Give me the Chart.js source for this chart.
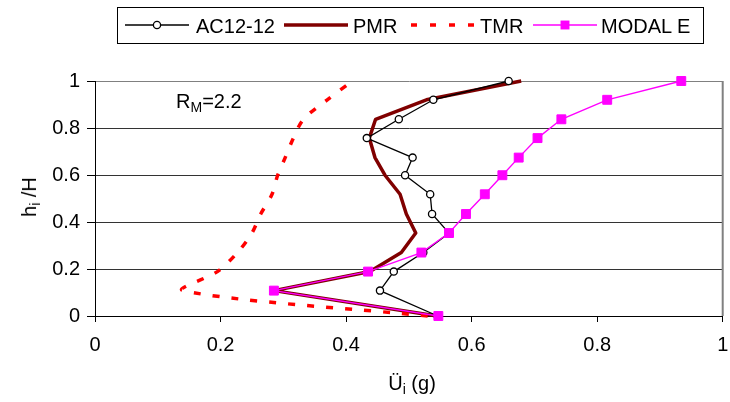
<!DOCTYPE html>
<html>
<head>
<meta charset="utf-8">
<script src="https://cdn.jsdelivr.net/npm/chart.js@4.4.1/dist/chart.umd.min.js"></script>
<style>
  html, body { margin:0; padding:0; background:#fff; }
  #wrap { position:relative; width:730px; height:402px; background:#fff; overflow:hidden;
          font-family:'Liberation Sans', Arial, sans-serif; color:#000; }
  #c { position:absolute; left:0; top:0; }
  .txt { position:absolute; font-size:20px; line-height:20px; white-space:nowrap; }
  .txt sub { font-size:14px; vertical-align:-4px; line-height:0; }
  #legendBox { position:absolute; left:117px; top:7px; width:585px; height:35px; border:1px solid #000; background:#fff; }
  .sample { position:absolute; }
</style>
</head>
<body>
<div id="wrap">
  <canvas id="c" width="730" height="402"></canvas>
  <div id="legendBox"></div>
  <div class="txt" id="ytitle" style="left:29px;top:197px;transform:translate(-50%,-50%) rotate(-90deg);">h<sub>i</sub> /H</div>
  <div class="txt" id="xtitle" style="left:412px;top:383px;transform:translate(-50%,-50%);">Ü<sub>i</sub> (g)</div>
  <div class="txt" id="note" style="left:176px;top:91px;">R<sub>M</sub>=2.2</div>
</div>
<script>
// ---- data ----
const heights = [0, 0.108, 0.189, 0.270, 0.353, 0.434, 0.518, 0.599, 0.674, 0.757, 0.837, 0.920, 1.000];
const ac12    = [0.546, 0.454, 0.476, 0.523, 0.564, 0.537, 0.534, 0.494, 0.506, 0.433, 0.484, 0.539, 0.659];
const pmr     = [0.545, 0.285, 0.438, 0.488, 0.511, 0.496, 0.486, 0.462, 0.446, 0.437, 0.447, 0.528, 0.679];
const tmr     = [0.530, 0.140, 0.195, 0.227, 0.250, 0.264, 0.282, 0.291, 0.303, 0.316, 0.332, 0.370, 0.410];
const modalE  = [0.547, 0.285, 0.435, 0.520, 0.564, 0.591, 0.621, 0.649, 0.675, 0.705, 0.743, 0.816, 0.934];
const seriesNames = ['AC12-12', 'PMR', 'TMR', 'MODAL E'];
const xTickLabels = ['0', '0.2', '0.4', '0.6', '0.8', '1'];
const yTickLabels = ['0', '0.2', '0.4', '0.6', '0.8', '1'];

function pts(xs) { return xs.map((x, i) => ({ x: x, y: heights[i] })); }

const FONT = "'Liberation Sans', Arial, sans-serif";

const datasets = [
  { label: seriesNames[0], data: pts(ac12), showLine: true, borderColor: '#000', borderWidth: 1.3,
    pointStyle: 'circle', pointRadius: 3.6, pointBackgroundColor: '#fff', pointBorderColor: '#000',
    pointBorderWidth: 1.3, tension: 0, order: 1, clip: false },
  { label: seriesNames[1], data: pts(pmr), showLine: true, borderColor: '#800000', borderWidth: 3.5,
    pointRadius: 0, tension: 0, order: 3, borderJoinStyle: 'round', clip: false },
  { label: seriesNames[2], data: pts(tmr), showLine: true, borderColor: '#ff0000', borderWidth: 3.5,
    borderDash: [7, 12], pointRadius: 0, tension: 0.3, order: 2, clip: false },
  { label: seriesNames[3], data: pts(modalE), showLine: true, borderColor: '#ff00ff', borderWidth: 1.4,
    pointStyle: 'rect', pointRadius: 6.3, pointBackgroundColor: '#ff00ff', pointBorderColor: '#ff00ff',
    pointBorderWidth: 1, tension: 0, order: 0, clip: false }
];

const frame = {
  id: 'frame',
  beforeDatasetsDraw(chart) {
    const a = chart.chartArea, ctx = chart.ctx;
    ctx.save();
    ctx.strokeStyle = '#808080';
    ctx.lineWidth = 2;
    ctx.beginPath();
    ctx.moveTo(a.right, a.top);
    ctx.lineTo(a.right, a.bottom);
    ctx.stroke();
    ctx.restore();
  }
};

new Chart(document.getElementById('c'), {
  type: 'scatter',
  data: { datasets: datasets },
  options: {
    responsive: false,
    animation: false,
    devicePixelRatio: 1,
    layout: { padding: { left: 0, right: 7, top: 81, bottom: 0 } },
    plugins: { legend: { display: false }, tooltip: { enabled: false } },
    scales: {
      x: {
        type: 'linear', min: 0, max: 1,
        afterFit(s) { s.height = 86; s.paddingLeft = 0; s.paddingRight = 0; },
        border: { color: '#000', width: 1 },
        grid: { drawOnChartArea: false, drawTicks: true, tickLength: 6, tickColor: '#000' },
        ticks: { stepSize: 0.2, padding: 11, color: '#000', font: { family: FONT, size: 20 },
                 maxRotation: 0, autoSkip: false,
                 callback: (v, i) => xTickLabels[i] }
      },
      y: {
        type: 'linear', min: 0, max: 1,
        afterFit(s) { s.width = 95; s.paddingTop = 0; s.paddingBottom = 0; },
        border: { color: '#000', width: 1 },
        grid: { color: (c) => (c.tick && c.tick.value === 1) ? '#808080' : '#333', lineWidth: 1,
                drawTicks: true, tickLength: 8, tickColor: '#000' },
        ticks: { stepSize: 0.2, padding: 7, color: '#000', font: { family: FONT, size: 20 },
                 autoSkip: false, callback: (v, i) => yTickLabels[i] }
      }
    }
  },
  plugins: [frame]
});

// ---- legend (HTML text, samples drawn from dataset styles) ----
const legendSampleLeft = [125, 284, 411, 533];
const legendTextLeft = [196, 353, 480, 601];
const wrap = document.getElementById('wrap');
datasets.forEach((ds, i) => {
  const cv = document.createElement('canvas');
  cv.width = 64; cv.height = 14;
  cv.className = 'sample';
  cv.style.left = legendSampleLeft[i] + 'px';
  cv.style.top = '18px';
  const g = cv.getContext('2d');
  g.strokeStyle = ds.borderColor;
  g.lineWidth = ds.borderWidth;
  g.setLineDash(ds.borderDash ? [6, 13] : []);
  g.beginPath(); g.moveTo(0, 7); g.lineTo(64, 7); g.stroke();
  g.setLineDash([]);
  if (ds.pointRadius > 0) {
    if (ds.pointStyle === 'circle') {
      g.beginPath(); g.arc(32, 7, ds.pointRadius, 0, Math.PI * 2);
      g.fillStyle = ds.pointBackgroundColor; g.fill();
      g.lineWidth = ds.pointBorderWidth; g.strokeStyle = ds.pointBorderColor; g.stroke();
    } else {
      const h = ds.pointRadius * Math.SQRT1_2;
      g.fillStyle = ds.pointBackgroundColor;
      g.fillRect(32 - h, 7 - h, 2 * h, 2 * h);
    }
  }
  wrap.appendChild(cv);
  const t = document.createElement('div');
  t.className = 'txt';
  t.style.left = legendTextLeft[i] + 'px';
  t.style.top = '16px';
  t.textContent = ds.label;
  wrap.appendChild(t);
});
</script>
</body>
</html>
